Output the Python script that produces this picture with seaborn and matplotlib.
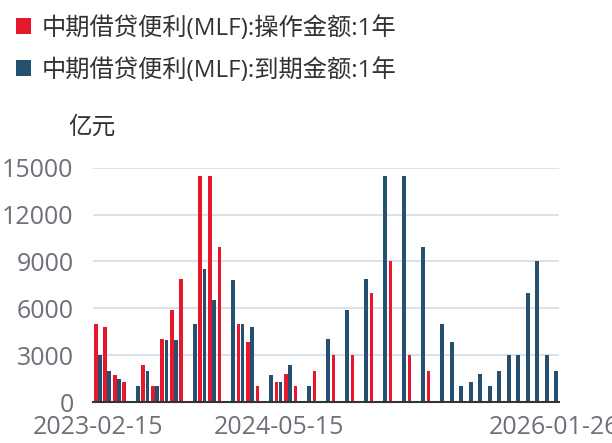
import numpy as np
import pandas as pd
import matplotlib
matplotlib.use("Agg")
import matplotlib.pyplot as plt
from matplotlib.patches import Rectangle
import seaborn as sns

# data (亿元), NaN = no bar on that date
dates = [
    "2023-02-15", "2023-03-15", "2023-04-17", "2023-05-15", "2023-05-17",
    "2023-06-15", "2023-07-17", "2023-08-15", "2023-09-15", "2023-10-16",
    "2023-10-17", "2023-11-15", "2023-12-15", "2024-01-15", "2024-01-17",
    "2024-02-18", "2024-03-15", "2024-04-15", "2024-04-17", "2024-05-15",
    "2024-06-17", "2024-07-15", "2024-07-17", "2024-07-25", "2024-08-15",
    "2024-08-26", "2024-09-14", "2024-09-25", "2024-10-16", "2024-10-25",
    "2024-11-15", "2024-11-25", "2024-12-15", "2024-12-25", "2025-01-15",
    "2025-01-24", "2025-02-18", "2025-03-15", "2025-04-15", "2025-05-15",
    "2025-06-17", "2025-07-15", "2025-07-25", "2025-08-26", "2025-09-25",
    "2025-10-27", "2025-11-25", "2025-12-25", "2026-01-26",
]
nan = np.nan
operation = [
    4990, 4810, 1700, 1250, nan, 2370, 1030, 4010, 5910, 7890,
    nan, 14500, 14500, 9950, nan, 5000, 3870, 1000, nan, 1250,
    1820, 1000, nan, 2000, nan, 3000, nan, 3000, nan, 7000,
    nan, 9000, nan, 3000, nan, 2000, nan, nan, nan, nan,
    nan, nan, nan, nan, nan, nan, nan, nan, nan,
]
maturity = [
    3000, 2000, 1500, nan, 1000, 2000, 1000, 4000, 4000, nan,
    5000, 8500, 6500, nan, 7790, 4990, 4810, nan, 1700, 1250,
    2370, nan, 1030, nan, 4010, nan, 5910, nan, 7890, nan,
    14500, nan, 14500, nan, 9950, nan, 5000, 3870, 1000, 1250,
    1820, 1000, 2000, 3000, 3000, 7000, 9000, 3000, 2000,
]
series_names = ["中期借贷便利(MLF):操作金额:1年", "中期借贷便利(MLF):到期金额:1年"]
y_ticks = [0, 3000, 6000, 9000, 12000, 15000]
label_idx = [0, 19, 48]

red = "#E8182C"
blue = "#26506F"

df = pd.DataFrame({
    "date": dates * 2,
    "value": operation + maturity,
    "series": [series_names[0]] * len(dates) + [series_names[1]] * len(dates),
}).dropna()

sns.set_style("white")
plt.rcParams["font.family"] = ["Open Sans", "Noto Sans CJK SC", "DejaVu Sans"]

fig = plt.figure(figsize=(6.12, 4.43), dpi=100)
ax = fig.add_axes([93 / 612, 41 / 443, 466 / 612, 234.3 / 443])

sns.barplot(data=df, x="date", y="value", hue="series", order=dates,
            hue_order=series_names, palette=[red, blue], width=0.86, gap=0.1,
            errorbar=None, legend=False, ax=ax, zorder=3, linewidth=0,
            saturation=1)

ax.set_xlim(-0.5, len(dates) - 0.5)
ax.set_ylim(0, 15000)
ax.set_xlabel("")
ax.set_ylabel("")

# y axis
ax.set_yticks(y_ticks)
ax.set_yticklabels([str(v) for v in y_ticks])
ax.tick_params(axis="y", length=0, pad=14, labelsize=18, labelcolor="#6E7079")
for v in y_ticks[1:]:
    ax.axhline(v, color="#DDE1EC", lw=1.4, zorder=1)

# x axis: ticks on category boundaries, labels on categories
ax.set_xticks([-0.5, 18.5, 37.5, len(dates) - 0.5])
ax.set_xticklabels([])
ax.set_xticks(label_idx, minor=True)
ax.set_xticklabels([dates[i] for i in label_idx], minor=True)
ax.tick_params(axis="x", which="major", length=6, width=1.5, color="#333333")
ax.tick_params(axis="x", which="minor", length=0, pad=9, labelsize=18,
               labelcolor="#6E7079")

for s in ["top", "right", "left"]:
    ax.spines[s].set_visible(False)
ax.spines["bottom"].set_color("#333333")
ax.spines["bottom"].set_linewidth(1.5)
ax.spines["bottom"].set_zorder(4)

# legend
for i, (name, col) in enumerate(zip(series_names, [red, blue])):
    yc = 443 - (26 + i * 42)
    fig.patches.append(Rectangle((16 / 612, (yc - 7.5) / 443), 15 / 612, 15 / 443,
                                 transform=fig.transFigure, facecolor=col,
                                 edgecolor="none"))
    fig.text(42 / 612, yc / 443, name, fontsize=17.5, color="#333333",
             ha="left", va="center_baseline")

# unit
fig.text(68 / 612, (443 - 125) / 443, "亿元", fontsize=17, color="#333333",
         ha="left", va="center_baseline")

fig.savefig("out.png", dpi=100)
